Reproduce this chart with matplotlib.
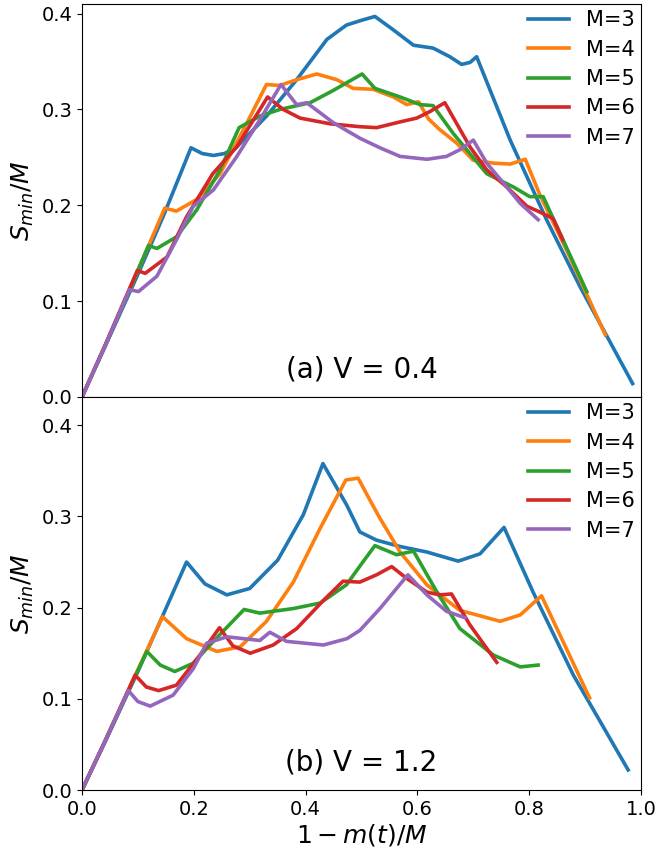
import matplotlib
matplotlib.use("Agg")
import matplotlib.pyplot as plt

# ---------------- data: panel (a) V = 0.4 ----------------
a3_x = [0, 0.04, 0.10, 0.145, 0.195, 0.215, 0.235, 0.255, 0.277, 0.330, 0.384, 0.438, 0.473, 0.500, 0.524, 0.557, 0.593, 0.628, 0.658, 0.679, 0.694, 0.706, 0.766, 0.831, 0.891, 0.985]
a3_y = [0, 0.051, 0.128, 0.188, 0.260, 0.254, 0.252, 0.254, 0.261, 0.293, 0.331, 0.373, 0.388, 0.393, 0.397, 0.383, 0.367, 0.364, 0.355, 0.347, 0.349, 0.355, 0.268, 0.185, 0.115, 0.014]

a4_x = [0, 0.04, 0.10, 0.148, 0.169, 0.205, 0.247, 0.289, 0.330, 0.354, 0.384, 0.420, 0.456, 0.485, 0.521, 0.557, 0.581, 0.602, 0.620, 0.640, 0.670, 0.700, 0.736, 0.766, 0.793, 0.819, 0.867, 0.936]
a4_y = [0, 0.052, 0.132, 0.197, 0.194, 0.206, 0.233, 0.279, 0.326, 0.325, 0.331, 0.337, 0.331, 0.322, 0.321, 0.313, 0.305, 0.308, 0.290, 0.279, 0.265, 0.247, 0.244, 0.243, 0.248, 0.211, 0.153, 0.065]

a5_x = [0, 0.04, 0.08, 0.119, 0.134, 0.169, 0.205, 0.247, 0.281, 0.318, 0.354, 0.408, 0.450, 0.501, 0.524, 0.569, 0.605, 0.628, 0.664, 0.694, 0.724, 0.772, 0.801, 0.825, 0.903]
a5_y = [0, 0.052, 0.105, 0.158, 0.155, 0.167, 0.195, 0.237, 0.281, 0.293, 0.300, 0.307, 0.320, 0.337, 0.322, 0.313, 0.305, 0.304, 0.275, 0.254, 0.233, 0.219, 0.209, 0.209, 0.110]

a6_x = [0, 0.04, 0.099, 0.113, 0.152, 0.187, 0.234, 0.277, 0.332, 0.360, 0.390, 0.444, 0.497, 0.527, 0.569, 0.599, 0.623, 0.649, 0.694, 0.724, 0.760, 0.796, 0.819, 0.843, 0.860]
a6_y = [0, 0.052, 0.132, 0.129, 0.146, 0.188, 0.233, 0.261, 0.313, 0.300, 0.291, 0.285, 0.282, 0.281, 0.287, 0.291, 0.298, 0.307, 0.261, 0.237, 0.219, 0.199, 0.193, 0.186, 0.164]

a7_x = [0, 0.038, 0.085, 0.101, 0.134, 0.169, 0.199, 0.235, 0.277, 0.318, 0.356, 0.384, 0.402, 0.450, 0.497, 0.533, 0.569, 0.617, 0.652, 0.676, 0.700, 0.724, 0.760, 0.784, 0.816]
a7_y = [0, 0.049, 0.112, 0.110, 0.126, 0.164, 0.199, 0.216, 0.251, 0.289, 0.326, 0.305, 0.307, 0.286, 0.270, 0.260, 0.251, 0.248, 0.251, 0.258, 0.268, 0.244, 0.219, 0.202, 0.185]

# ---------------- data: panel (b) V = 1.2 ----------------
b3_x = [0, 0.04, 0.10, 0.145, 0.187, 0.220, 0.259, 0.300, 0.350, 0.396, 0.431, 0.474, 0.497, 0.527, 0.569, 0.617, 0.673, 0.712, 0.755, 0.807, 0.879, 0.977]
b3_y = [0, 0.051, 0.130, 0.192, 0.250, 0.226, 0.214, 0.221, 0.252, 0.302, 0.358, 0.312, 0.283, 0.274, 0.267, 0.261, 0.251, 0.259, 0.288, 0.217, 0.126, 0.022]

b4_x = [0, 0.04, 0.10, 0.144, 0.187, 0.241, 0.283, 0.330, 0.378, 0.426, 0.472, 0.494, 0.515, 0.533, 0.569, 0.617, 0.676, 0.748, 0.784, 0.822, 0.908]
b4_y = [0, 0.052, 0.132, 0.190, 0.166, 0.152, 0.157, 0.185, 0.228, 0.287, 0.340, 0.342, 0.318, 0.298, 0.261, 0.225, 0.197, 0.185, 0.192, 0.213, 0.101]

b5_x = [0, 0.04, 0.08, 0.116, 0.140, 0.166, 0.199, 0.235, 0.290, 0.318, 0.378, 0.426, 0.473, 0.500, 0.524, 0.563, 0.593, 0.635, 0.676, 0.736, 0.784, 0.816]
b5_y = [0, 0.052, 0.105, 0.152, 0.137, 0.130, 0.139, 0.163, 0.198, 0.194, 0.199, 0.205, 0.225, 0.248, 0.268, 0.258, 0.262, 0.217, 0.177, 0.148, 0.135, 0.137]

b6_x = [0, 0.04, 0.095, 0.115, 0.137, 0.169, 0.211, 0.246, 0.270, 0.301, 0.342, 0.384, 0.432, 0.467, 0.497, 0.527, 0.554, 0.581, 0.617, 0.640, 0.661, 0.694, 0.742]
b6_y = [0, 0.052, 0.126, 0.113, 0.109, 0.115, 0.148, 0.178, 0.158, 0.150, 0.159, 0.177, 0.208, 0.229, 0.228, 0.236, 0.245, 0.232, 0.217, 0.214, 0.215, 0.181, 0.140]

b7_x = [0, 0.04, 0.083, 0.100, 0.122, 0.163, 0.199, 0.223, 0.259, 0.318, 0.336, 0.366, 0.432, 0.474, 0.497, 0.533, 0.583, 0.617, 0.652, 0.685]
b7_y = [0, 0.052, 0.109, 0.097, 0.092, 0.104, 0.133, 0.161, 0.168, 0.164, 0.173, 0.163, 0.159, 0.166, 0.175, 0.199, 0.236, 0.214, 0.196, 0.189]

labels = ["M=3", "M=4", "M=5", "M=6", "M=7"]
colors = ["#1f77b4", "#ff7f0e", "#2ca02c", "#d62728", "#9467bd"]
yticks = [0.0, 0.1, 0.2, 0.3, 0.4]
xticks = [0.0, 0.2, 0.4, 0.6, 0.8, 1.0]

panel_a = [(a3_x, a3_y), (a4_x, a4_y), (a5_x, a5_y), (a6_x, a6_y), (a7_x, a7_y)]
panel_b = [(b3_x, b3_y), (b4_x, b4_y), (b5_x, b5_y), (b6_x, b6_y), (b7_x, b7_y)]

fig = plt.figure(figsize=(6.57, 8.55), dpi=100)
L, R = 82 / 657, 641 / 657
yb, ym, yt = 1 - 790 / 855, 1 - 397 / 855, 1 - 4 / 855
ax1 = fig.add_axes([L, ym, R - L, yt - ym])
ax2 = fig.add_axes([L, yb, R - L, ym - yb])

for ax, data, ymax, title in [(ax1, panel_a, 0.41, "(a) V = 0.4"),
                               (ax2, panel_b, 0.431, "(b) V = 1.2")]:
    for (x, y), lab, c in zip(data, labels, colors):
        ax.plot(x, y, color=c, lw=2.6, label=lab, solid_joinstyle="round")
    ax.set_xlim(0, 1)
    ax.set_ylim(0, ymax)
    ax.set_yticks(yticks)
    ax.set_xticks(xticks)
    ax.tick_params(labelsize=14)
    ax.set_ylabel("$S_{min}/M$", fontsize=18)
    ax.text(0.5, 0.07, title, transform=ax.transAxes, ha="center",
            va="center", fontsize=20)
    ax.legend(loc="upper right", fontsize=15, frameon=False,
              borderaxespad=0.1, borderpad=0.2, handletextpad=0.8,
              labelspacing=0.45)

ax1.tick_params(axis="x", bottom=False, labelbottom=False)
ax2.set_xlabel("$1 - m(t)/M$", fontsize=18, labelpad=2)

fig.savefig("out.png", dpi=100)
